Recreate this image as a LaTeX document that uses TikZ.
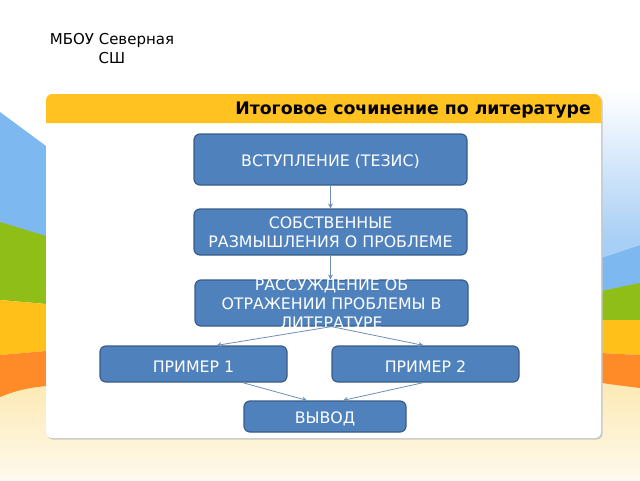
\documentclass[tikz,border=0pt]{standalone}
\usepackage{fontspec}
\setmainfont{DejaVu Sans}
\usetikzlibrary{calc,arrows.meta}
\definecolor{boxfill}{HTML}{4F81BD}
\definecolor{boxline}{HTML}{385D8A}
\definecolor{linkc}{HTML}{6F8FB8}
\definecolor{hdr}{HTML}{FFC220}
\definecolor{skyb}{HTML}{7DB8F0}
\definecolor{skyl}{HTML}{A8CFF5}
\definecolor{grn}{HTML}{8FBE18}
\definecolor{yel}{HTML}{FFC119}
\definecolor{org}{HTML}{FF8A28}
\definecolor{sand}{HTML}{FCE9B4}
\tikzset{
  x=1pt,y=-1pt,
  flow/.style={draw=boxline,line width=1.2pt,fill=boxfill,rounded corners=6pt,inner sep=0pt,
    text=white,align=center,font=\fontsize{15.8}{19}\selectfont,
    execute at begin node={\rule{0pt}{16pt}}},
  link/.style={draw=linkc,line width=0.8pt,-{Stealth[length=5pt,width=5pt]}},
}
\begin{document}
\begin{tikzpicture}
\useasboundingbox (0,0) rectangle (640,480);
% page background
\fill[white] (0,0) rectangle (640,480);
\fill[top color=sand,bottom color=sand!25!white] (0,384) rectangle (640,480);
% left bands
\fill[skyb] (0,112) -- (46,146) -- (46,238) -- (0,224) -- cycle;
\fill[grn] (0,222) -- (46,236) -- (46,304) -- (0,300) -- cycle;
\fill[yel] (0,300) -- (46,304) -- (46,351) -- (0,355) -- cycle;
\fill[org] (0,355) -- (46,351) -- (46,386) .. controls (25,388) and (12,392) .. (0,397) -- cycle;
% right bands
\fill[top color=white,bottom color=skyl] (601,90) rectangle (640,240);
\fill[skyl] (601,240) -- (640,240) -- (640,245) -- (601,258) -- cycle;
\fill[skyb] (601,258) -- (640,245) -- (640,284) -- (601,291) -- cycle;
\fill[grn] (601,291) -- (640,283) -- (640,320) -- (601,320) -- cycle;
\fill[yel] (601,320) -- (640,320) -- (640,355) -- (601,353) -- cycle;
\fill[org] (601,353) -- (640,355) -- (640,388) -- (601,383) -- cycle;
% panel
\fill[black!22,rounded corners=6pt] (47,96) rectangle (602.5,439.5);
\fill[white,rounded corners=6pt] (46,94) rectangle (601,438);
\fill[hdr] (46,123) -- (46,100) .. controls (46,97) and (49,94) .. (52,94) -- (595,94) .. controls (598,94) and (601,97) .. (601,100) -- (601,123) -- cycle;
\node[anchor=east,font=\bfseries\fontsize{17.3}{20}\selectfont,inner sep=0pt] (title) at (591,110.5) {Итоговое сочинение по литературе};
\node[align=center,font=\fontsize{15}{18.5}\selectfont,inner sep=0pt] (school) at (112,48.5) {МБОУ Северная\\СШ};
% boxes
\node[flow,minimum width=273pt,minimum height=51pt] (n1) at (330.5,159.5) {ВСТУПЛЕНИЕ (ТЕЗИС)};
\node[flow,minimum width=273pt,minimum height=46pt] (n2) at (330.5,232) {СОБСТВЕННЫЕ\\РАЗМЫШЛЕНИЯ О ПРОБЛЕМЕ};
\node[flow,minimum width=273pt,minimum height=46pt,execute at begin node={}] (n3) at (331.5,303) {};
\begin{scope}
\clip (190,278.5) rectangle (472,326);
\node[text=white,align=center,inner sep=0pt,font=\fontsize{15.8}{19}\selectfont] (n3t) at (331.5,303.5) {РАССУЖДЕНИЕ ОБ\\ОТРАЖЕНИИ ПРОБЛЕМЫ В\\ЛИТЕРАТУРЕ};
\end{scope}
\node[flow,minimum width=187pt,minimum height=36pt] (p1) at (193.5,364) {ПРИМЕР 1};
\node[flow,minimum width=187pt,minimum height=36pt] (p2) at (425.5,364) {ПРИМЕР 2};
\node[flow,minimum width=162pt,minimum height=31pt] (v) at (325,416.5) {ВЫВОД};
% connectors
\draw[link] (n1.south) -- (n2.north);
\draw[link] (n2.south) -- ($(n3.north)+(-1,0)$);
\draw[link] (n3.south) -- ($(p1.north)+(23,0)$);
\draw[link] (n3.south) -- ($(p2.north)+(-2,0)$);
\draw[link] ($(p1.south)+(49,0)$) -- ($(v.north)+(-18,0)$);
\draw[link] ($(p2.south)+(-2,0)$) -- ($(v.north)+(18,0)$);
\end{tikzpicture}
\end{document}
